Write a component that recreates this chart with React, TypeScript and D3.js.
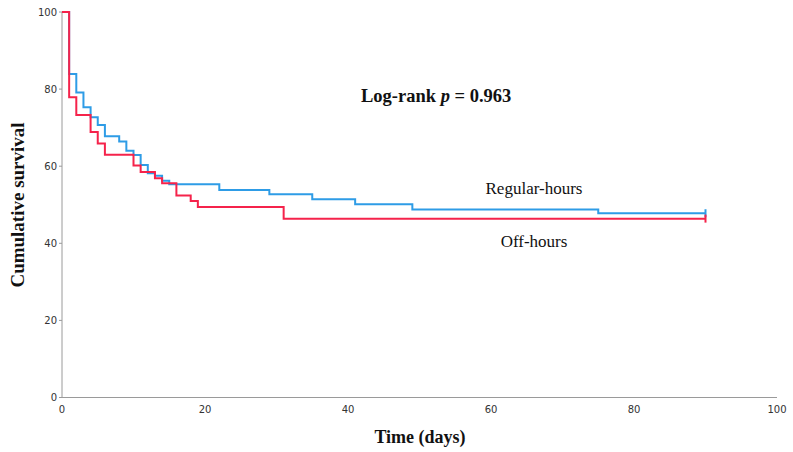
import React from "react";
import * as d3 from "d3";

// Kaplan-Meier step data (time in days, cumulative survival %)
const regularTimes = [0, 1, 2, 3, 4, 5, 6, 8, 9, 10, 11, 12, 13, 14, 15, 22, 29, 35, 41, 49, 75];
const regularSurv = [100, 83.9, 79.1, 75.3, 72.7, 70.7, 67.8, 66.4, 64.0, 62.9, 60.3, 58.2, 57.5, 56.2, 55.3, 53.8, 52.7, 51.4, 50.1, 48.8, 47.8];
const offTimes = [0, 1, 2, 4, 5, 6, 10, 11, 13, 14, 16, 18, 19, 31];
const offSurv = [100, 77.9, 73.3, 68.9, 65.9, 63.0, 60.2, 58.5, 56.9, 55.6, 52.4, 51.0, 49.4, 46.4];
const followUpEnd = 90;
const xTicks = [0, 20, 40, 60, 80, 100];
const yTicks = [0, 20, 40, 60, 80, 100];

const W = 793;
const H = 452;
const BLUE = "#2e9ce6";
const RED = "#f5234b";
const AXIS = "#9a9a9a";

const x = d3.scaleLinear().domain([0, 100]).range([62, 777]);
const y = d3.scaleLinear().domain([0, 100]).range([397.5, 12]);

function stepPath(times: number[], surv: number[], end: number) {
  const pts: [number, number][] = times.map((t, i) => [t, surv[i]]);
  pts.push([end, surv[surv.length - 1]]);
  const line = d3
    .line<[number, number]>()
    .x((d) => x(d[0]))
    .y((d) => y(d[1]))
    .curve(d3.curveStepAfter);
  return line(pts) || "";
}

export default function App() {
  const serif = "'Liberation Serif', 'Times New Roman', serif";
  const sans = "'DejaVu Sans', sans-serif";
  const endB = regularSurv[regularSurv.length - 1];
  const endR = offSurv[offSurv.length - 1];
  return (
    <svg
      width={W}
      height={H}
      style={{ position: "absolute", left: 0, top: 0, background: "#fff" }}
    >
      {/* axes */}
      <line x1={x(0)} x2={x(0)} y1={y(0)} y2={y(100)} stroke={AXIS} strokeWidth={1} />
      <line x1={x(0)} x2={x(100)} y1={y(0)} y2={y(0)} stroke={AXIS} strokeWidth={1} />
      {yTicks.map((t) => (
        <g key={"y" + t}>
          <line x1={x(0) - 3} x2={x(0)} y1={y(t)} y2={y(t)} stroke={AXIS} strokeWidth={1} />
          <text
            x={x(0) - 5}
            y={y(t)}
            dy="0.35em"
            textAnchor="end"
            fontFamily={sans}
            fontSize={10}
            fill="#333"
          >
            {t}
          </text>
        </g>
      ))}
      {xTicks.map((t) => (
        <text
          key={"x" + t}
          x={x(t)}
          y={413}
          textAnchor="middle"
          fontFamily={sans}
          fontSize={10}
          fill="#333"
        >
          {t}
        </text>
      ))}

      {/* curves */}
      <path d={stepPath(regularTimes, regularSurv, followUpEnd)} fill="none" stroke={BLUE} strokeWidth={2} />
      <path d={stepPath(offTimes, offSurv, followUpEnd)} fill="none" stroke={RED} strokeWidth={2} />
      {/* censor marks */}
      <line x1={x(followUpEnd)} x2={x(followUpEnd)} y1={y(endB) - 4} y2={y(endB) + 4} stroke={BLUE} strokeWidth={2} />
      <line x1={x(followUpEnd)} x2={x(followUpEnd)} y1={y(endR) - 4} y2={y(endR) + 4} stroke={RED} strokeWidth={2} />

      {/* annotations */}
      <text x={361} y={102} fontFamily={serif} fontSize={18.5} fontWeight="bold" fill="#111">
        Log-rank <tspan fontStyle="italic">p</tspan> = 0.963
      </text>
      <text x={534} y={194} textAnchor="middle" fontFamily={serif} fontSize={17} fill="#111">
        Regular-hours
      </text>
      <text x={534} y={247} textAnchor="middle" fontFamily={serif} fontSize={17} fill="#111">
        Off-hours
      </text>

      {/* axis titles */}
      <text x={420} y={443} textAnchor="middle" fontFamily={serif} fontSize={18} fontWeight="bold" fill="#111">
        Time (days)
      </text>
      <text
        transform="translate(24,205) rotate(-90)"
        textAnchor="middle"
        fontFamily={serif}
        fontSize={19}
        fontWeight="bold"
        fill="#111"
      >
        Cumulative survival
      </text>
    </svg>
  );
}
